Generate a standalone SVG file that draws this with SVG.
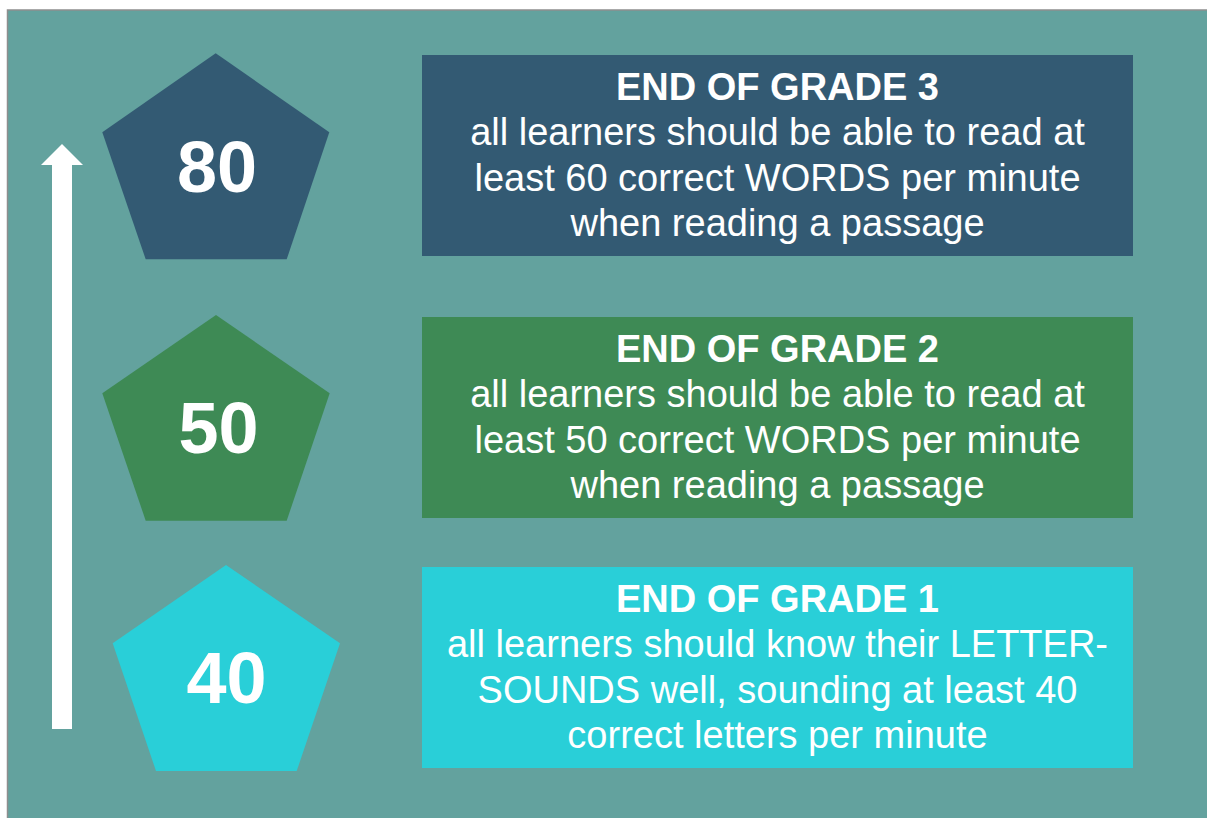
<svg xmlns="http://www.w3.org/2000/svg" width="1207" height="818" viewBox="0 0 1207 818">
  <style>
    .num { font-family: "Liberation Sans", Arial, sans-serif; font-weight: bold; font-size: 72px; fill: #ffffff; text-anchor: middle; }
    .title { font-family: "Liberation Sans", Arial, sans-serif; font-weight: bold; font-size: 38px; fill: #ffffff; text-anchor: middle; }
    .body { font-family: "Liberation Sans", Arial, sans-serif; font-size: 38px; fill: #ffffff; text-anchor: middle; }
    .g3 { fill: #335a73; }
    .g2 { fill: #3e8a55; }
    .g1 { fill: #29cfd8; }
  </style>
  <rect x="0" y="0" width="1207" height="818" fill="#ffffff"/>
  <rect x="7.5" y="10" width="1210" height="820" fill="#63a29e" stroke="#8e8e8e" stroke-width="1.5"/>

  <g id="connectors">
    <polygon points="52,729 72,729 72,165 83,165 62,144 41,165 52,165" fill="#ffffff"/>
  </g>

  <g id="node-80">
    <polygon class="g3" points="215.7,53.3 329.3,132.3 286.7,259.3 145.7,259.3 102.3,132.3"/>
    <text class="num" x="217" y="191.5">80</text>
  </g>
  <g id="node-50">
    <polygon class="g2" points="216,315 329.7,393.3 286.7,520.7 145.7,520.7 102.3,393.3"/>
    <text class="num" x="218.5" y="453">50</text>
  </g>
  <g id="node-40">
    <polygon class="g1" points="226,565 340,643.3 296.7,771 156,771 112.7,643.3"/>
    <text class="num" x="226.5" y="703">40</text>
  </g>

  <g id="box-grade3">
    <rect class="g3" x="422" y="55" width="711" height="201"/>
    <text class="title" x="777.5" y="99.5">END OF GRADE 3</text>
    <text class="body" x="777.5" y="145">all learners should be able to read at</text>
    <text class="body" x="777.5" y="190.5">least 60 correct WORDS per minute</text>
    <text class="body" x="777.5" y="236">when reading a passage</text>
  </g>
  <g id="box-grade2">
    <rect class="g2" x="422" y="317" width="711" height="201"/>
    <text class="title" x="777.5" y="361.5">END OF GRADE 2</text>
    <text class="body" x="777.5" y="407">all learners should be able to read at</text>
    <text class="body" x="777.5" y="452.5">least 50 correct WORDS per minute</text>
    <text class="body" x="777.5" y="498">when reading a passage</text>
  </g>
  <g id="box-grade1">
    <rect class="g1" x="422" y="567" width="711" height="201"/>
    <text class="title" x="777.5" y="611.5">END OF GRADE 1</text>
    <text class="body" x="777.5" y="657">all learners should know their LETTER-</text>
    <text class="body" x="777.5" y="702.5">SOUNDS well, sounding at least 40</text>
    <text class="body" x="777.5" y="748">correct letters per minute</text>
  </g>
</svg>
